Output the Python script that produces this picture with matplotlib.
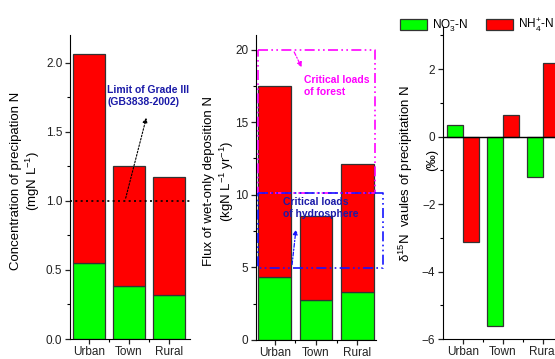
import matplotlib
matplotlib.use("Agg")
import matplotlib.pyplot as plt
import numpy as np
from matplotlib.ticker import MultipleLocator, FixedLocator

plt.rcParams['font.family'] = ['Liberation Sans', 'DejaVu Sans']
plt.rcParams['mathtext.fontset'] = 'custom'
plt.rcParams['mathtext.rm'] = 'Liberation Sans'
plt.rcParams['mathtext.it'] = 'Liberation Sans:italic'
plt.rcParams['mathtext.bf'] = 'Liberation Sans:bold'

categories = ["Urban", "Town", "Rural"]

# Panel a: concentration (mgN/L)
conc_no3 = [0.55, 0.38, 0.32]
conc_total = [2.06, 1.25, 1.175]
conc_limit = 1.0

# Panel b: flux
flux_no3 = [4.35, 2.72, 3.33]
flux_total = [17.5, 8.55, 12.15]
forest_load = [10.1, 20.0]
hydro_load = [4.97, 10.1]

# Panel c: delta15N
d15_no3 = [0.35, -5.6, -1.2]
d15_nh4 = [-3.12, 0.65, 2.17]

GREEN = "#00FF00"
RED = "#FF0000"
NAVY = "#1A1AA8"
MAG = "#FF00FF"
BLUE = "#1515FF"

W, H = 555, 359
fig = plt.figure(figsize=(W / 100, H / 100), dpi=100)

def ax_px(l, r, t, b):
    return fig.add_axes([l / W, (H - b) / H, (r - l) / W, (b - t) / H])

x = np.arange(len(categories))
fs = 8.5

def style(ax):
    for s in ['top', 'right']:
        ax.spines[s].set_visible(False)
    ax.tick_params(axis='both', which='major', direction='out', length=3.5, width=0.9, labelsize=fs,
                   colors='#222222', pad=2)
    ax.tick_params(axis='both', which='minor', direction='out', length=2.2, width=0.8)
    ax.tick_params(axis='x', pad=1.5)
    ax.xaxis.set_minor_locator(FixedLocator([0.5, 1.5]))
    ax.set_xticks(x)
    ax.set_xticklabels(categories)

# ---------- Panel 1 ----------
ax1 = ax_px(70, 190, 35, 339)
nh4_conc = [t - n for t, n in zip(conc_total, conc_no3)]
ax1.bar(x, conc_no3, width=0.82, color=GREEN, edgecolor='#333333', linewidth=0.9)
ax1.bar(x, nh4_conc, bottom=conc_no3, width=0.82, color=RED, edgecolor='#333333', linewidth=0.9)
ax1.set_xlim(-0.475, 2.525)
ax1.set_ylim(0, 2.2)
ax1.yaxis.set_major_locator(MultipleLocator(0.5))
ax1.yaxis.set_minor_locator(MultipleLocator(0.25))
ax1.yaxis.set_major_formatter(matplotlib.ticker.FormatStrFormatter('%.1f'))
style(ax1)
ax1.axhline(conc_limit, color='black', linestyle=(0, (1.2, 2)), linewidth=1.2)
ax1.set_ylabel("Concentration of precipation N\n(mgN L$^{-1}$)", fontsize=9.5)
ax1.yaxis.set_label_coords(-0.23, 0.52)
ax1.annotate("", xy=(1.45, 1.62), xytext=(0.9, 1.0),
             arrowprops=dict(arrowstyle='-|>', color='black', linestyle=(0, (1.5, 1.5)), lw=0.8, mutation_scale=7))
ax1.text(0.45, 1.76, "Limit of Grade III\n(GB3838-2002)", color=NAVY, fontsize=7.5,
         fontweight='bold', ha='left', va='center', linespacing=1.3, clip_on=False)

# ---------- Panel 2 ----------
ax2 = ax_px(256, 376, 35, 340)
nh4_flux = [t - n for t, n in zip(flux_total, flux_no3)]
ax2.bar(x, flux_no3, width=0.8, color=GREEN, edgecolor='#333333', linewidth=0.9)
ax2.bar(x, nh4_flux, bottom=flux_no3, width=0.8, color=RED, edgecolor='#333333', linewidth=0.9)
ax2.set_xlim(-0.46, 2.46)
ax2.set_ylim(0, 21)
ax2.yaxis.set_major_locator(MultipleLocator(5))
ax2.yaxis.set_minor_locator(MultipleLocator(2.5))
style(ax2)
ax2.set_ylabel("Flux of wet-only deposition N\n(kgN L$^{-1}$ yr$^{-1}$)", fontsize=9.5)
ax2.yaxis.set_label_coords(-0.17, 0.52)
xl, xr_f, xr_h = -0.42, 2.44, 2.63
ax2.plot([xl, xr_f, xr_f, xl, xl], [forest_load[1], forest_load[1], forest_load[0], forest_load[0], forest_load[1]],
         color=MAG, linestyle=(0, (6, 2, 1, 2, 1, 2)), linewidth=1.2, clip_on=False, zorder=5)
ax2.plot([xl, xr_h, xr_h, xl, xl], [hydro_load[1], hydro_load[1], hydro_load[0], hydro_load[0], hydro_load[1]],
         color=BLUE, linestyle=(0, (6, 2, 1, 2, 1, 2)), linewidth=1.2, clip_on=False, zorder=6)
ax2.text(0.7, 17.5, "Critical loads\nof forest", color=MAG, fontsize=7.5, fontweight='bold',
         ha='left', va='center', linespacing=1.3, zorder=7)
ax2.annotate("", xy=(0.68, 18.6), xytext=(0.44, 20.0),
             arrowprops=dict(arrowstyle='-|>', color=MAG, linestyle=(0, (3, 1.5, 1, 1.5)), lw=0.9, mutation_scale=7), zorder=7)
ax2.text(0.2, 9.1, "Critical loads\nof hydrosphere", color=NAVY, fontsize=7.5, fontweight='bold',
         ha='left', va='center', linespacing=1.3, zorder=7)
ax2.annotate("", xy=(0.52, 7.8), xytext=(0.41, 5.0),
             arrowprops=dict(arrowstyle='-|>', color=BLUE, linestyle=(0, (3, 1.5, 1, 1.5)), lw=0.9, mutation_scale=7), zorder=7)

# ---------- Panel 3 ----------
ax3 = ax_px(443, 563, 27, 339)
bw = 0.4
ax3.bar(x - bw / 2, d15_no3, width=bw, color=GREEN, edgecolor='#333333', linewidth=0.9, label="NO$_3^{-}$-N")
ax3.bar(x + bw / 2, d15_nh4, width=bw, color=RED, edgecolor='#333333', linewidth=0.9, label="NH$_4^{+}$-N")
ax3.set_xlim(-0.5, 2.5)
ax3.set_ylim(-6, 3.25)
ax3.yaxis.set_major_locator(MultipleLocator(2))
ax3.yaxis.set_minor_locator(MultipleLocator(1))
style(ax3)
ax3.axhline(0, color='black', linewidth=1.0)
ax3.set_ylabel("δ$^{15}$N  vaules of precipitation N", fontsize=9.5)
ax3.yaxis.set_label_coords(-0.235, 0.53)
ax3.text(-0.09, 0.575, "(‰)", rotation=90, fontsize=9.5, transform=ax3.transAxes,
         ha='center', va='center', color='black')
fig.legend(loc='upper left', bbox_to_anchor=(395 / W, 1 - 12 / H), ncol=2, frameon=False,
           fontsize=8.5, handlelength=2.3, handleheight=1.0, columnspacing=1.5, handletextpad=0.4,
           borderaxespad=0)

fig.savefig("out.png", dpi=100)
